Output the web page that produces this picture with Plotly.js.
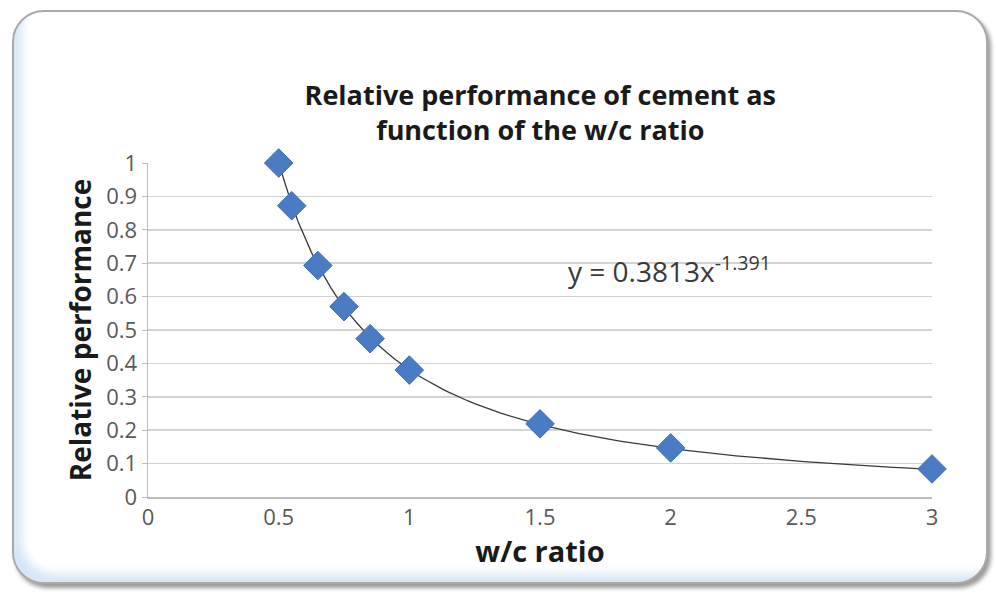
<!DOCTYPE html>
<html>
<head>
<meta charset="utf-8">
<script src="https://cdn.plot.ly/plotly-3.0.1.min.js"></script>
<style>
  html, body { margin: 0; padding: 0; background: #ffffff; }
  #wrap { position: relative; width: 996px; height: 603px; overflow: hidden; }
  #frame {
    position: absolute; left: 12px; top: 10px; width: 976px; height: 574px;
    border: 2px solid #a9a9a9; border-radius: 32px; background: #ffffff;
    box-shadow: inset 12px -12px 10px -4px #d6e7f7, 3px 4px 4px #9a9a9a;
    box-sizing: border-box;
  }
  #chart { position: absolute; left: 0; top: 0; width: 996px; height: 603px; }
</style>
</head>
<body>
<div id="wrap">
  <div id="frame"></div>
  <div id="chart"></div>
</div>
<script>
// Data
const wcRatio = [0.5, 0.55, 0.65, 0.75, 0.85, 1.0, 1.5, 2.0, 3.0];
const relPerf = [1.0, 0.872, 0.693, 0.570, 0.474, 0.380, 0.219, 0.147, 0.084];

// Power trendline coefficients as printed on the chart
const trendA = 0.3813;
const trendB = -1.391;
const trendX = [];
for (let i = 0; i <= 100; i++) trendX.push(0.5 + i * 0.025);
const trendY = trendX.map(x => trendA * Math.pow(x, trendB));

const xTicks = [0, 0.5, 1, 1.5, 2, 2.5, 3];
const yTicks = [0, 0.1, 0.2, 0.3, 0.4, 0.5, 0.6, 0.7, 0.8, 0.9, 1];

const font = '"Open Sans", "Noto Sans", sans-serif';

const traces = [
  {
    x: trendX, y: trendY, mode: 'lines', type: 'scatter',
    line: { color: '#3a3a3a', width: 1.3 }, hoverinfo: 'skip', showlegend: false,
    cliponaxis: false
  },
  {
    x: wcRatio, y: relPerf, mode: 'markers', type: 'scatter',
    marker: { symbol: 'diamond', size: 22, color: '#4a7cc4', line: { color: '#3f6fb5', width: 1 } },
    showlegend: false, cliponaxis: false
  }
];

const layout = {
  width: 996, height: 603,
  margin: { l: 148, r: 64, t: 163, b: 106 },
  paper_bgcolor: 'rgba(0,0,0,0)',
  plot_bgcolor: 'rgba(0,0,0,0)',
  showlegend: false,
  title: {
    text: '<b>Relative performance of cement as<br>function of the w/c ratio</b>',
    font: { family: font, size: 27, color: '#1a1a1a' },
    x: 0.5425, xanchor: 'center', y: 0.826, yanchor: 'middle'
  },
  xaxis: {
    range: [0, 3], tickvals: xTicks, ticktext: xTicks.map(String),
    showgrid: false, zeroline: false,
    showline: true, linecolor: '#bdbdbd', linewidth: 1.5,
    ticks: '', tickfont: { family: font, size: 22, color: '#595959' },
    title: { text: '<b>w/c ratio</b>', font: { family: font, size: 29, color: '#1a1a1a' }, standoff: 8 }
  },
  yaxis: {
    range: [0, 1], tickvals: yTicks, ticktext: yTicks.map(String),
    showgrid: true, gridcolor: '#d3d3d3', gridwidth: 1.5, zeroline: false,
    showline: true, linecolor: '#bdbdbd', linewidth: 1.5,
    ticks: 'outside', ticklen: 5, tickcolor: '#bdbdbd',
    tickfont: { family: font, size: 22, color: '#595959' },
    title: { text: '<b>Relative performance</b>', font: { family: font, size: 28, color: '#1a1a1a' }, standoff: 6 }
  },
  annotations: [
    {
      x: 1.6, y: 0.68, xref: 'x', yref: 'y', xanchor: 'left', yanchor: 'middle',
      text: 'y = 0.3813x<sup>-1.391</sup>', showarrow: false,
      font: { family: font, size: 28, color: '#3a3a3a' }
    }
  ]
};

Plotly.newPlot('chart', traces, layout, { displayModeBar: false, staticPlot: true });
</script>
</body>
</html>
